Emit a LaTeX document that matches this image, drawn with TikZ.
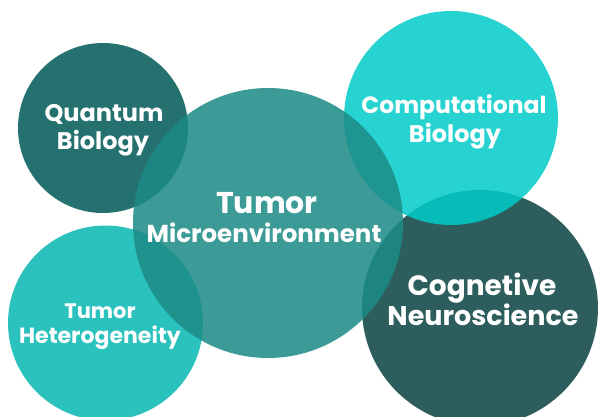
\documentclass[tikz,border=0pt]{standalone}
\usepackage{fontspec}
\setmainfont{Poppins}
\definecolor{quantumc}{RGB}{0,90,88}
\definecolor{tumorc}{RGB}{29,139,134}
\definecolor{compc}{RGB}{2,204,200}
\definecolor{cognc}{RGB}{10,68,66}
\definecolor{hetc}{RGB}{8,184,178}
\tikzset{
  blob/.style={fill=#1, fill opacity=0.86, draw=none},
  lbl/.style={text=white, anchor=base, inner sep=0pt, font=\bfseries\fontsize{#1}{#1}\selectfont},
}
\begin{document}
\begin{tikzpicture}[x=1pt,y=-1pt]
\useasboundingbox (0,0) rectangle (598,416);
\begin{scope}
\clip (0,0) rectangle (598,416);
\fill[blob=cognc] (480,308) circle[radius=118];
\fill[blob=compc] (451,118) circle[radius=107];
\fill[blob=quantumc] (103,128) circle[radius=85];
\fill[blob=hetc] (105.5,323) circle[radius=97.5];
\fill[blob=tumorc] (268,223) circle[radius=135];
\end{scope}
\node[lbl=24] (q1) at (104,121) {Quantum};
\node[lbl=24] (q2) at (103,149) {Biology};
\node[lbl=30] (t1) at (267,213) {Tumor};
\node[lbl=24.5] (t2) at (264,242) {Microenvironment};
\node[lbl=23.5] (c1) at (454,113) {Computational};
\node[lbl=24] (c2) at (455,142) {Biology};
\node[lbl=28] (n1) at (482,295) {Cognetive};
\node[lbl=27] (n2) at (483,325) {Neuroscience};
\node[lbl=21] (h1) at (100,318) {Tumor};
\node[lbl=22] (h2) at (100,343) {Heterogeneity};
\end{tikzpicture}
\end{document}
